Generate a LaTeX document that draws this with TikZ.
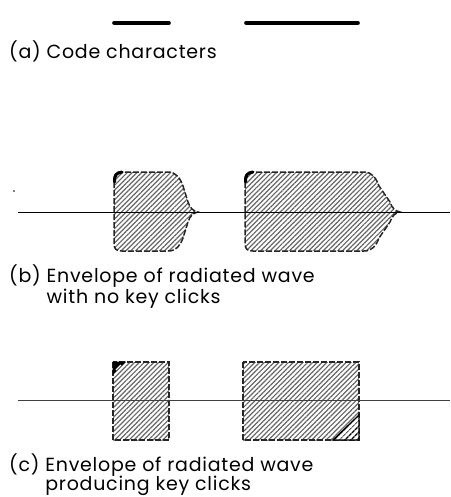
\documentclass[tikz,border=0pt]{standalone}
\usepackage{fontspec}
\setmainfont[LetterSpace=4]{Poppins}
\usetikzlibrary{patterns.meta}

\begin{document}
\begin{tikzpicture}[x=1pt,y=-1pt,
  lb/.style={font=\fontsize{19}{22}\selectfont,anchor=base west,inner sep=0pt},
  hatch/.style={pattern={Lines[angle=45,distance=3.4pt,line width=1.2pt]},pattern color=black!60},
  env/.style={draw=black!85,line width=1.5pt,dash pattern=on 6pt off 2pt,hatch},
  axis/.style={line width=0.9pt},
  code/.style={line width=3.6pt,line cap=round}]
\useasboundingbox (0,0) rectangle (450,497);

% (a) code characters
\coordinate (dot1s) at (114,23); \coordinate (dot1e) at (169,23);
\coordinate (dash1s) at (246,23); \coordinate (dash1e) at (358,23);
\draw[code] (dot1s) -- (dot1e);
\draw[code] (dash1s) -- (dash1e);
\node[lb] (capa) at (9,59) {(a) Code characters};

% (b) envelope, no key clicks
\foreach \l/\r/\t in {114/168/198,245/364/400}{
  \draw[env] (\l,212) -- (\l,180) .. controls (\l,174) and (\l+2,172) .. (\l+8,172)
    -- (\r,172) .. controls (\r+8,172) and (\r+12,178) .. (\r+15,186)
    -- (\t-10,202) .. controls (\t-8,208) and (\t-5,211) .. (\t,212)
    .. controls (\t-5,213) and (\t-8,216) .. (\t-10,222)
    -- (\r+15,238) .. controls (\r+12,246) and (\r+8,251) .. (\r,251)
    -- (\l+8,251) .. controls (\l+2,251) and (\l,249) .. (\l,243) -- cycle;
  \draw[line width=3pt,line cap=round] (\l+0.5,182) .. controls (\l+0.5,175) and (\l+2,173) .. (\l+8,172);
}
\coordinate (bs) at (18,212); \coordinate (be) at (450,212);
\draw[axis] (bs) -- (be);
\fill (14,191) circle (0.8pt);
\node[lb] (capb) at (9,282) {(b) Envelope of radiated wave};
\node[lb] (capbb) at (9,303) {\hphantom{(b) }with no key clicks};

% (c) envelope, producing key clicks
\draw[env] (113,362) rectangle (169,440);
\draw[env] (243,362) rectangle (359,440);
\fill[black] (112.5,361.5) -- (126,361.5) -- (112.5,375) -- cycle;
\draw[white,line width=1.2pt] (116,370) -- (121,365);
\draw[line width=1.2pt,preaction={fill=white},pattern={Lines[angle=45,distance=4pt,line width=1.4pt]}]
  (359,440) -- (359,415) -- (333,440) -- cycle;
\coordinate (cs) at (18,400); \coordinate (ce) at (450,400);
\draw[axis,black!75] (cs) -- (ce);
\node[lb] (capc) at (9,471) {(c) Envelope of radiated wave};
\node[lb] (capcc) at (9,490) {\hphantom{(c) }producing key clicks};
\end{tikzpicture}
\end{document}
